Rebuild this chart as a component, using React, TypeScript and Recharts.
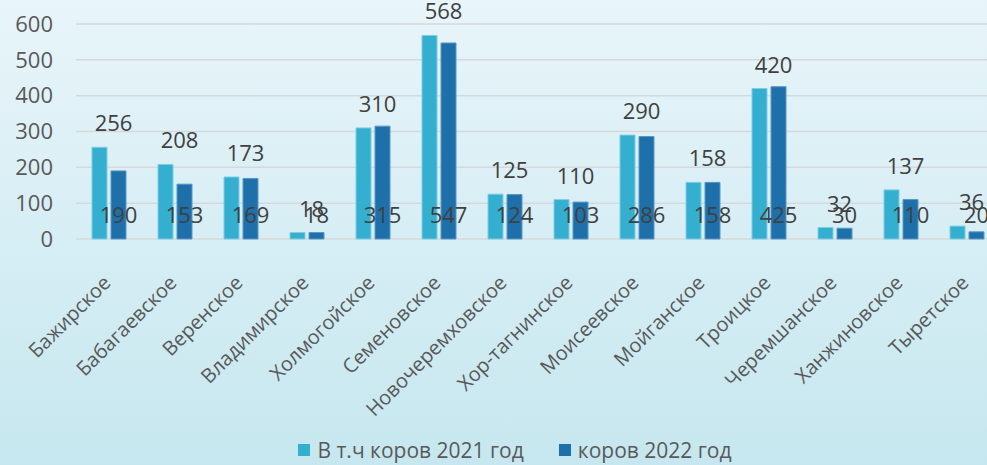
import React from "react";
import {
  BarChart,
  Bar,
  XAxis,
  YAxis,
  CartesianGrid,
  Legend,
  LabelList,
} from "recharts";

const settlements = [
  "Бажирское",
  "Бабагаевское",
  "Веренское",
  "Владимирское",
  "Холмогойское",
  "Семеновское",
  "Новочеремховское",
  "Хор-тагнинское",
  "Моисеевское",
  "Мойганское",
  "Троицкое",
  "Черемшанское",
  "Ханжиновское",
  "Тыретское",
];
const cows2021 = [256, 208, 173, 18, 310, 568, 125, 110, 290, 158, 420, 32, 137, 36];
const cows2022 = [190, 153, 169, 18, 315, 547, 124, 103, 286, 158, 425, 30, 110, 20];
const yTicks = [0, 100, 200, 300, 400, 500, 600];

const seriesNames = ["В т.ч коров 2021 год", "коров 2022 год"];
const colors = ["#35AFCF", "#1E70AA"];

const data = settlements.map((name, i) => ({
  name,
  c2021: cows2021[i],
  c2022: cows2022[i],
}));

const FONT = "'Open Sans', 'Noto Sans', sans-serif";

const XTick = (props: any) => {
  const { x, y, payload } = props;
  const tx = x + 3;
  const ty = y + 43;
  return (
    <text
      x={tx}
      y={ty}
      textAnchor="end"
      fill="#595959"
      fontSize={20}
      fontFamily={FONT}
      transform={`rotate(-45, ${tx}, ${ty})`}
    >
      {payload.value}
    </text>
  );
};

const TopLabel = (props: any) => {
  const { x, y, width, value } = props;
  return (
    <text
      x={x + width / 2 + 14}
      y={y - 25}
      textAnchor="middle"
      dominantBaseline="central"
      fill="#404040"
      fontSize={22}
      fontFamily={FONT}
    >
      {value}
    </text>
  );
};

const BaseLabel = (props: any) => {
  const { x, y, width, height, value } = props;
  return (
    <text
      x={x + width / 2}
      y={y + height - 25}
      textAnchor="middle"
      dominantBaseline="central"
      fill="#404040"
      fontSize={22}
      fontFamily={FONT}
    >
      {value}
    </text>
  );
};

const LegendContent = () => (
  <div
    style={{
      display: "flex",
      justifyContent: "center",
      alignItems: "center",
      paddingLeft: 30,
      height: 30,
      fontFamily: FONT,
      fontSize: 21,
      color: "#595959",
    }}
  >
    {seriesNames.map((n, i) => (
      <div
        key={n}
        style={{ display: "flex", alignItems: "center", marginRight: i === 0 ? 35 : 0 }}
      >
        <span
          style={{
            display: "inline-block",
            width: 12,
            height: 12,
            background: colors[i],
            marginRight: 7,
          }}
        />
        <span>{n}</span>
      </div>
    ))}
  </div>
);

export default function App() {
  return (
    <div
      style={{
        position: "fixed",
        left: 0,
        top: 0,
        width: 987,
        height: 465,
        overflow: "hidden",
        background: "linear-gradient(180deg, #e8f5fa 0%, #c6e7ef 100%)",
      }}
    >
      <BarChart
        width={1000}
        height={465}
        data={data}
        margin={{ top: 24, right: 0, left: 0, bottom: 0 }}
        barSize={15}
        barGap={4}
      >
        <CartesianGrid vertical={false} stroke="#d6d9db" strokeWidth={1.5} />
        <XAxis
          dataKey="name"
          height={196}
          interval={0}
          axisLine={false}
          tickLine={false}
          tickSize={0}
          tick={<XTick />}
        />
        <YAxis
          width={76}
          domain={[0, 600]}
          ticks={yTicks}
          axisLine={false}
          tickLine={false}
          tickSize={0}
          tickMargin={23}
          tick={{ fill: "#595959", fontSize: 22, fontFamily: FONT }}
        />
        <Legend verticalAlign="bottom" height={30} content={<LegendContent />} />
        <Bar
          dataKey="c2021"
          name={seriesNames[0]}
          fill={colors[0]}
          stroke="#7fcde3"
          strokeWidth={1}
          isAnimationActive={false}
        >
          <LabelList dataKey="c2021" content={<TopLabel />} />
        </Bar>
        <Bar
          dataKey="c2022"
          name={seriesNames[1]}
          fill={colors[1]}
          stroke="#5b96c4"
          strokeWidth={1}
          isAnimationActive={false}
        >
          <LabelList dataKey="c2022" content={<BaseLabel />} />
        </Bar>
      </BarChart>
    </div>
  );
}
